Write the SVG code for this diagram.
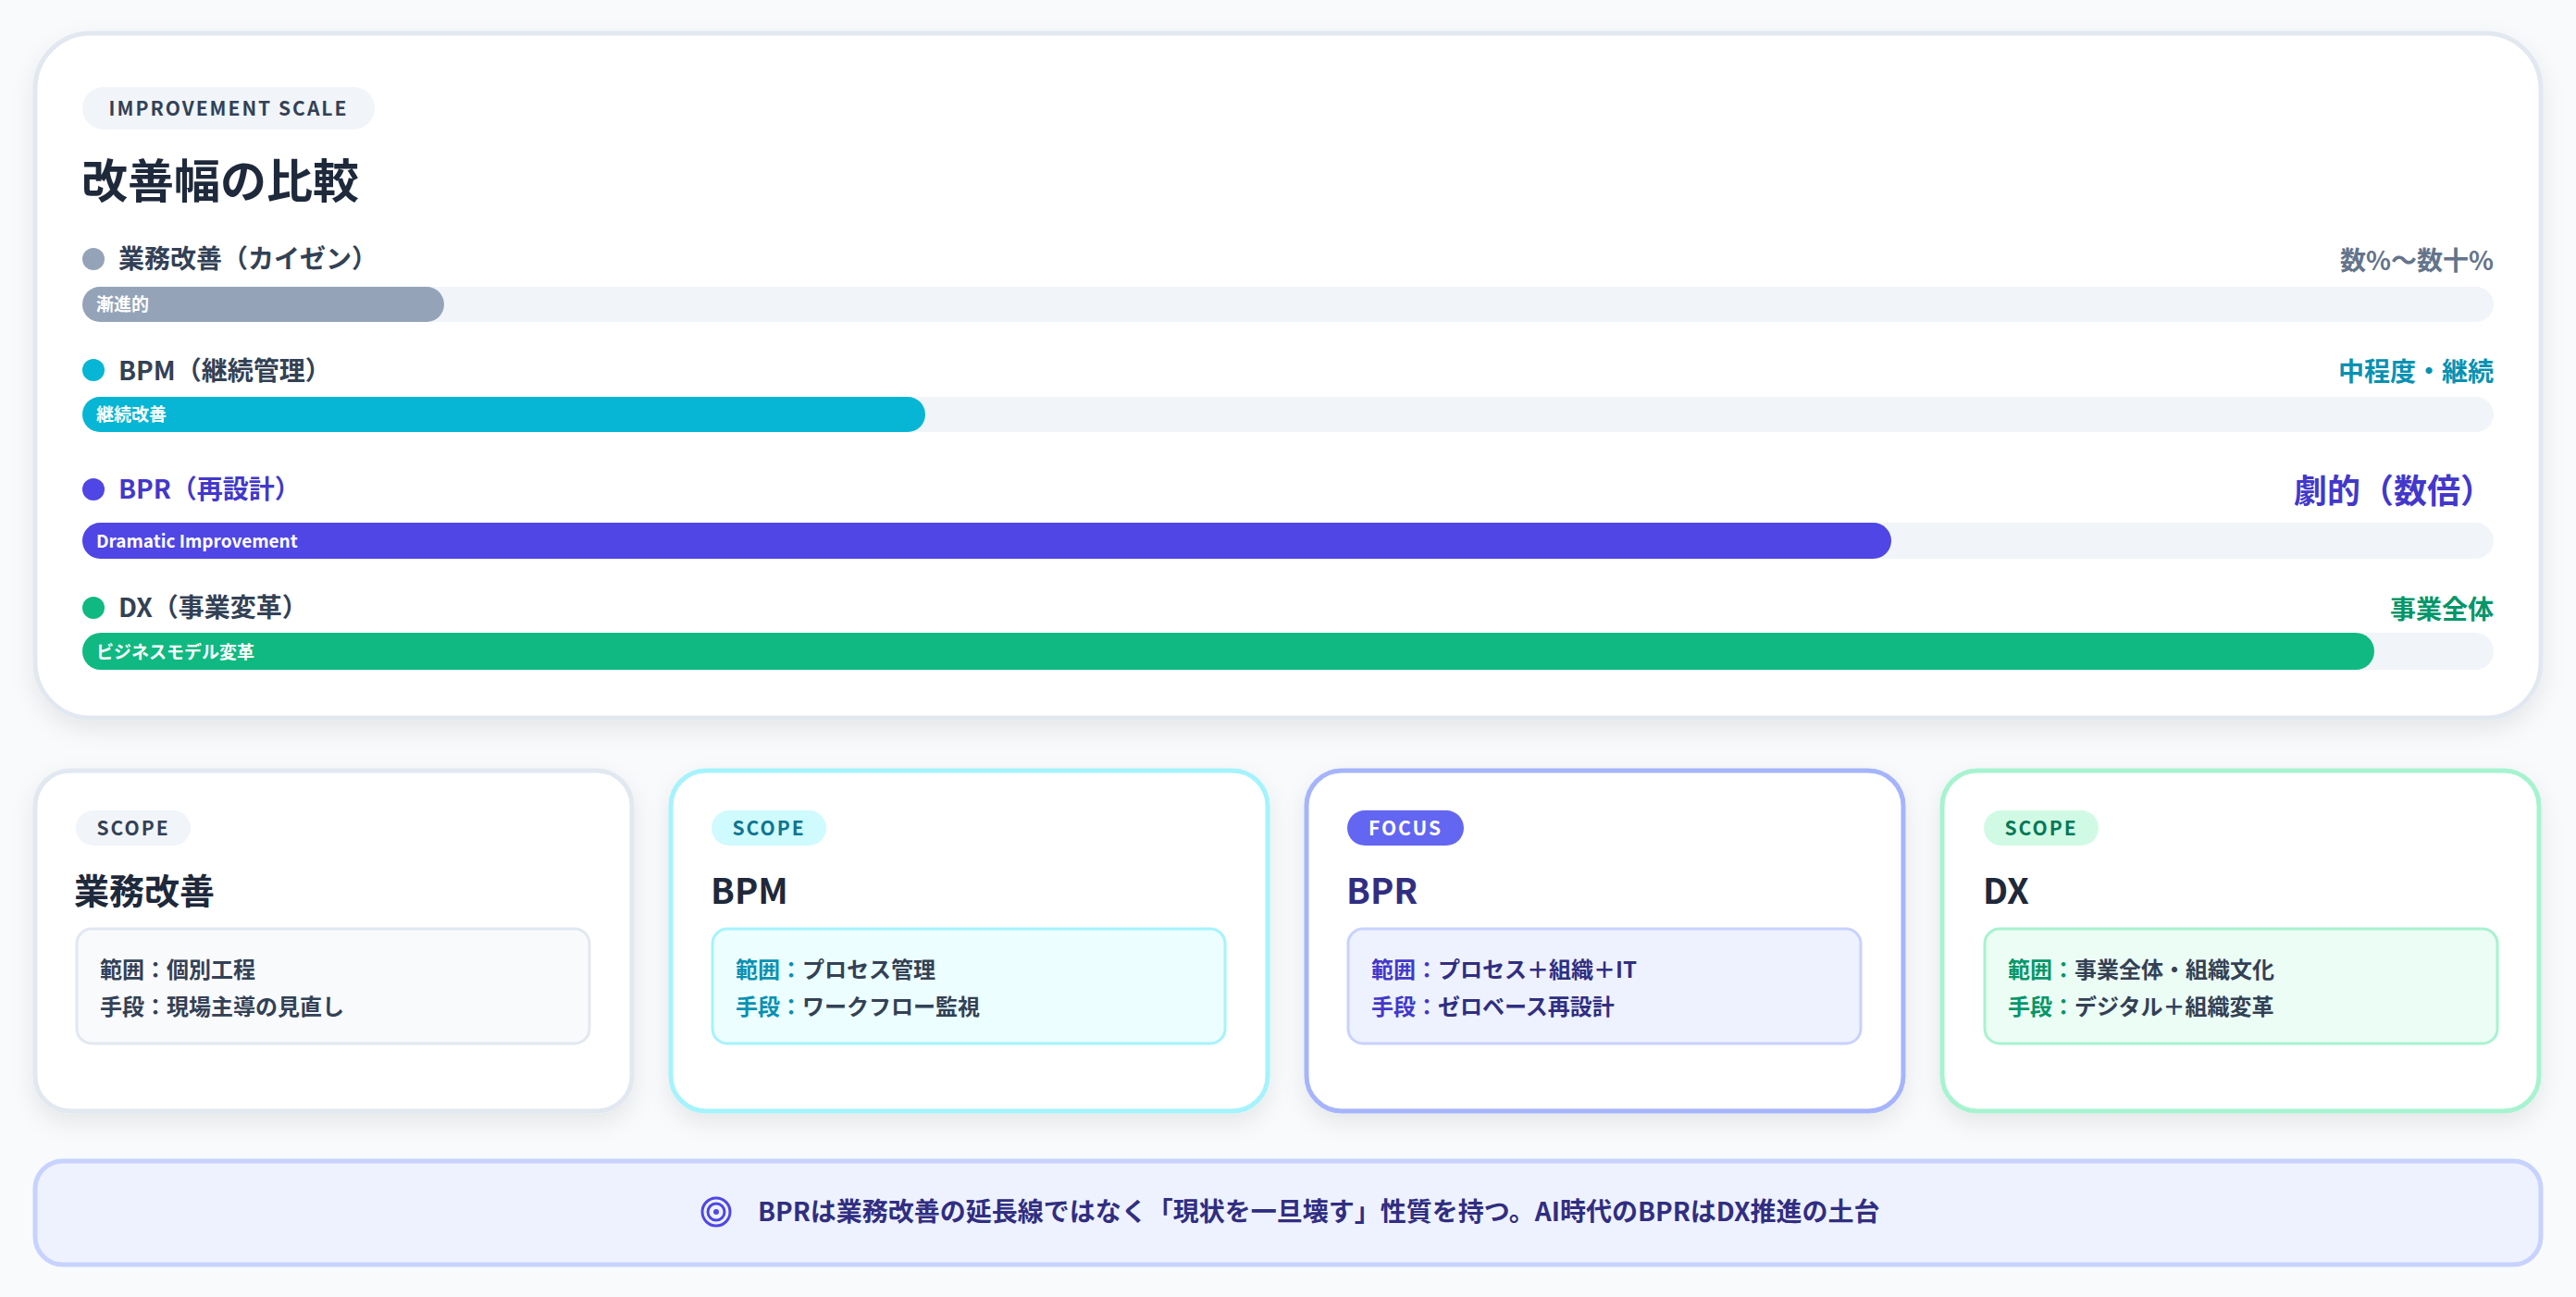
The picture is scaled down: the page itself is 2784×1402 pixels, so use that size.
<svg xmlns="http://www.w3.org/2000/svg" width="2784" height="1402" viewBox="0 0 2784 1402">
<defs>
<filter id="sh" x="-10%" y="-10%" width="120%" height="130%"><feDropShadow dx="0" dy="10" stdDeviation="12" flood-color="#0f172a" flood-opacity="0.08"/></filter>
<style>
text{font-family:"Noto Sans CJK JP","Noto Sans",sans-serif;font-weight:700}
.pill{font-size:21px;letter-spacing:2px}
.lbl{font-size:28px;fill:#334155}
.bt{font-size:19px;fill:#ffffff}
.h{font-size:38px;fill:#1e293b}
.ln{font-size:24px;fill:#334155}
.track{fill:#f1f5f9}
</style>
</defs>
<rect width="2784" height="1402" fill="#f8fafc"/>
<g id="scale">
<rect x="38" y="36" width="2708" height="740" rx="60" fill="#fff" stroke="#e2e8f0" stroke-width="5" filter="url(#sh)"/>
<rect x="89" y="94" width="316" height="46" rx="23" fill="#f1f5f9"/>
<text x="247" y="125" class="pill" text-anchor="middle" fill="#334155">IMPROVEMENT SCALE</text>
<text x="88" y="214" font-size="50" fill="#1e293b">改善幅の比較</text>
</g>
<g id="row-kaizen">
<circle cx="101" cy="280" r="12" fill="#94a3b8"/>
<text x="128" y="290" class="lbl">業務改善（カイゼン）</text>
<text x="2695" y="292" font-size="28" fill="#64748b" text-anchor="end">数%〜数十%</text>
<rect x="89" y="310" width="2606" height="38" rx="19" class="track"/>
<rect x="89" y="310" width="391" height="38" rx="19" fill="#94a3b8"/>
<text x="104" y="336" class="bt">漸進的</text>
</g>
<g id="row-bpm">
<circle cx="101" cy="400" r="12" fill="#06b6d4"/>
<text x="128" y="411" class="lbl">BPM（継続管理）</text>
<text x="2695" y="412" font-size="28" fill="#0891b2" text-anchor="end">中程度・継続</text>
<rect x="89" y="429" width="2606" height="38" rx="19" class="track"/>
<rect x="89" y="429" width="911" height="38" rx="19" fill="#06b6d4"/>
<text x="104" y="455" class="bt">継続改善</text>
</g>
<g id="row-bpr">
<circle cx="101" cy="529" r="12" fill="#4f46e5"/>
<text x="128" y="539" class="lbl" style="fill:#4338ca">BPR（再設計）</text>
<text x="2695" y="544" font-size="36" fill="#4338ca" text-anchor="end">劇的（数倍）</text>
<rect x="89" y="565" width="2606" height="39" rx="19.5" class="track"/>
<rect x="89" y="565" width="1955" height="39" rx="19.5" fill="#4f46e5"/>
<text x="104" y="592" class="bt">Dramatic Improvement</text>
</g>
<g id="row-dx">
<circle cx="101" cy="657" r="12" fill="#10b981"/>
<text x="128" y="667" class="lbl">DX（事業変革）</text>
<text x="2695" y="669" font-size="28" fill="#059669" text-anchor="end">事業全体</text>
<rect x="89" y="684" width="2606" height="40" rx="20" class="track"/>
<rect x="89" y="684" width="2477" height="40" rx="20" fill="#10b981"/>
<text x="104" y="712" class="bt">ビジネスモデル変革</text>
</g>
<g id="card-kaizen">
<rect x="38" y="833" width="645" height="368" rx="38" fill="#fff" stroke="#e2e8f0" stroke-width="5" filter="url(#sh)"/>
<rect x="82" y="876" width="124" height="38" rx="19" fill="#f1f5f9"/>
<text x="144" y="903" class="pill" text-anchor="middle" fill="#334155">SCOPE</text>
<text x="80" y="977" class="h">業務改善</text>
<rect x="83" y="1004" width="554" height="124" rx="16" fill="#f8fafc" stroke="#e2e8f0" stroke-width="3"/>
<text x="108" y="1057" class="ln">範囲：個別工程</text>
<text x="108" y="1097" class="ln">手段：現場主導の見直し</text>
</g>
<g id="card-bpm">
<rect x="725" y="833" width="645" height="368" rx="38" fill="#fff" stroke="#a5f3fc" stroke-width="5" filter="url(#sh)"/>
<rect x="769" y="876" width="124" height="38" rx="19" fill="#cffafe"/>
<text x="831" y="903" class="pill" text-anchor="middle" fill="#0e7490">SCOPE</text>
<text x="768" y="977" class="h">BPM</text>
<rect x="770" y="1004" width="554" height="124" rx="16" fill="#ecfeff" stroke="#a5f3fc" stroke-width="3"/>
<text x="795" y="1057" class="ln"><tspan fill="#0891b2">範囲：</tspan>プロセス管理</text>
<text x="795" y="1097" class="ln"><tspan fill="#0891b2">手段：</tspan>ワークフロー監視</text>
</g>
<g id="card-bpr">
<rect x="1412" y="833" width="645" height="368" rx="38" fill="#fff" stroke="#a5b4fc" stroke-width="5" filter="url(#sh)"/>
<rect x="1456" y="876" width="126" height="38" rx="19" fill="#6366f1"/>
<text x="1519" y="903" class="pill" text-anchor="middle" fill="#ffffff">FOCUS</text>
<text x="1455" y="977" class="h" style="fill:#312e81">BPR</text>
<rect x="1457" y="1004" width="554" height="124" rx="16" fill="#eef2ff" stroke="#c7d2fe" stroke-width="3"/>
<text x="1482" y="1057" class="ln" style="fill:#312e81"><tspan fill="#4338ca">範囲：</tspan>プロセス＋組織＋IT</text>
<text x="1482" y="1097" class="ln" style="fill:#312e81"><tspan fill="#4338ca">手段：</tspan>ゼロベース再設計</text>
</g>
<g id="card-dx">
<rect x="2099" y="833" width="645" height="368" rx="38" fill="#fff" stroke="#a7f3d0" stroke-width="5" filter="url(#sh)"/>
<rect x="2144" y="876" width="124" height="38" rx="19" fill="#d1fae5"/>
<text x="2206" y="903" class="pill" text-anchor="middle" fill="#047857">SCOPE</text>
<text x="2143" y="977" class="h">DX</text>
<rect x="2145" y="1004" width="554" height="124" rx="16" fill="#ecfdf5" stroke="#a7f3d0" stroke-width="3"/>
<text x="2170" y="1057" class="ln"><tspan fill="#059669">範囲：</tspan>事業全体・組織文化</text>
<text x="2170" y="1097" class="ln"><tspan fill="#059669">手段：</tspan>デジタル＋組織変革</text>
</g>
<g id="banner">
<rect x="38" y="1255" width="2708" height="112" rx="30" fill="#eef2ff" stroke="#c7d2fe" stroke-width="5"/>
<circle cx="774" cy="1310" r="15" fill="none" stroke="#4f46e5" stroke-width="3"/>
<circle cx="774" cy="1310" r="9" fill="none" stroke="#4f46e5" stroke-width="3"/>
<circle cx="774" cy="1310" r="3" fill="#4f46e5"/>
<text x="819" y="1320" font-size="28" fill="#312e81">BPRは業務改善の延長線ではなく「現状を一旦壊す」性質を持つ。AI時代のBPRはDX推進の土台</text>
</g>
<g id="connectors"/>
</svg>
